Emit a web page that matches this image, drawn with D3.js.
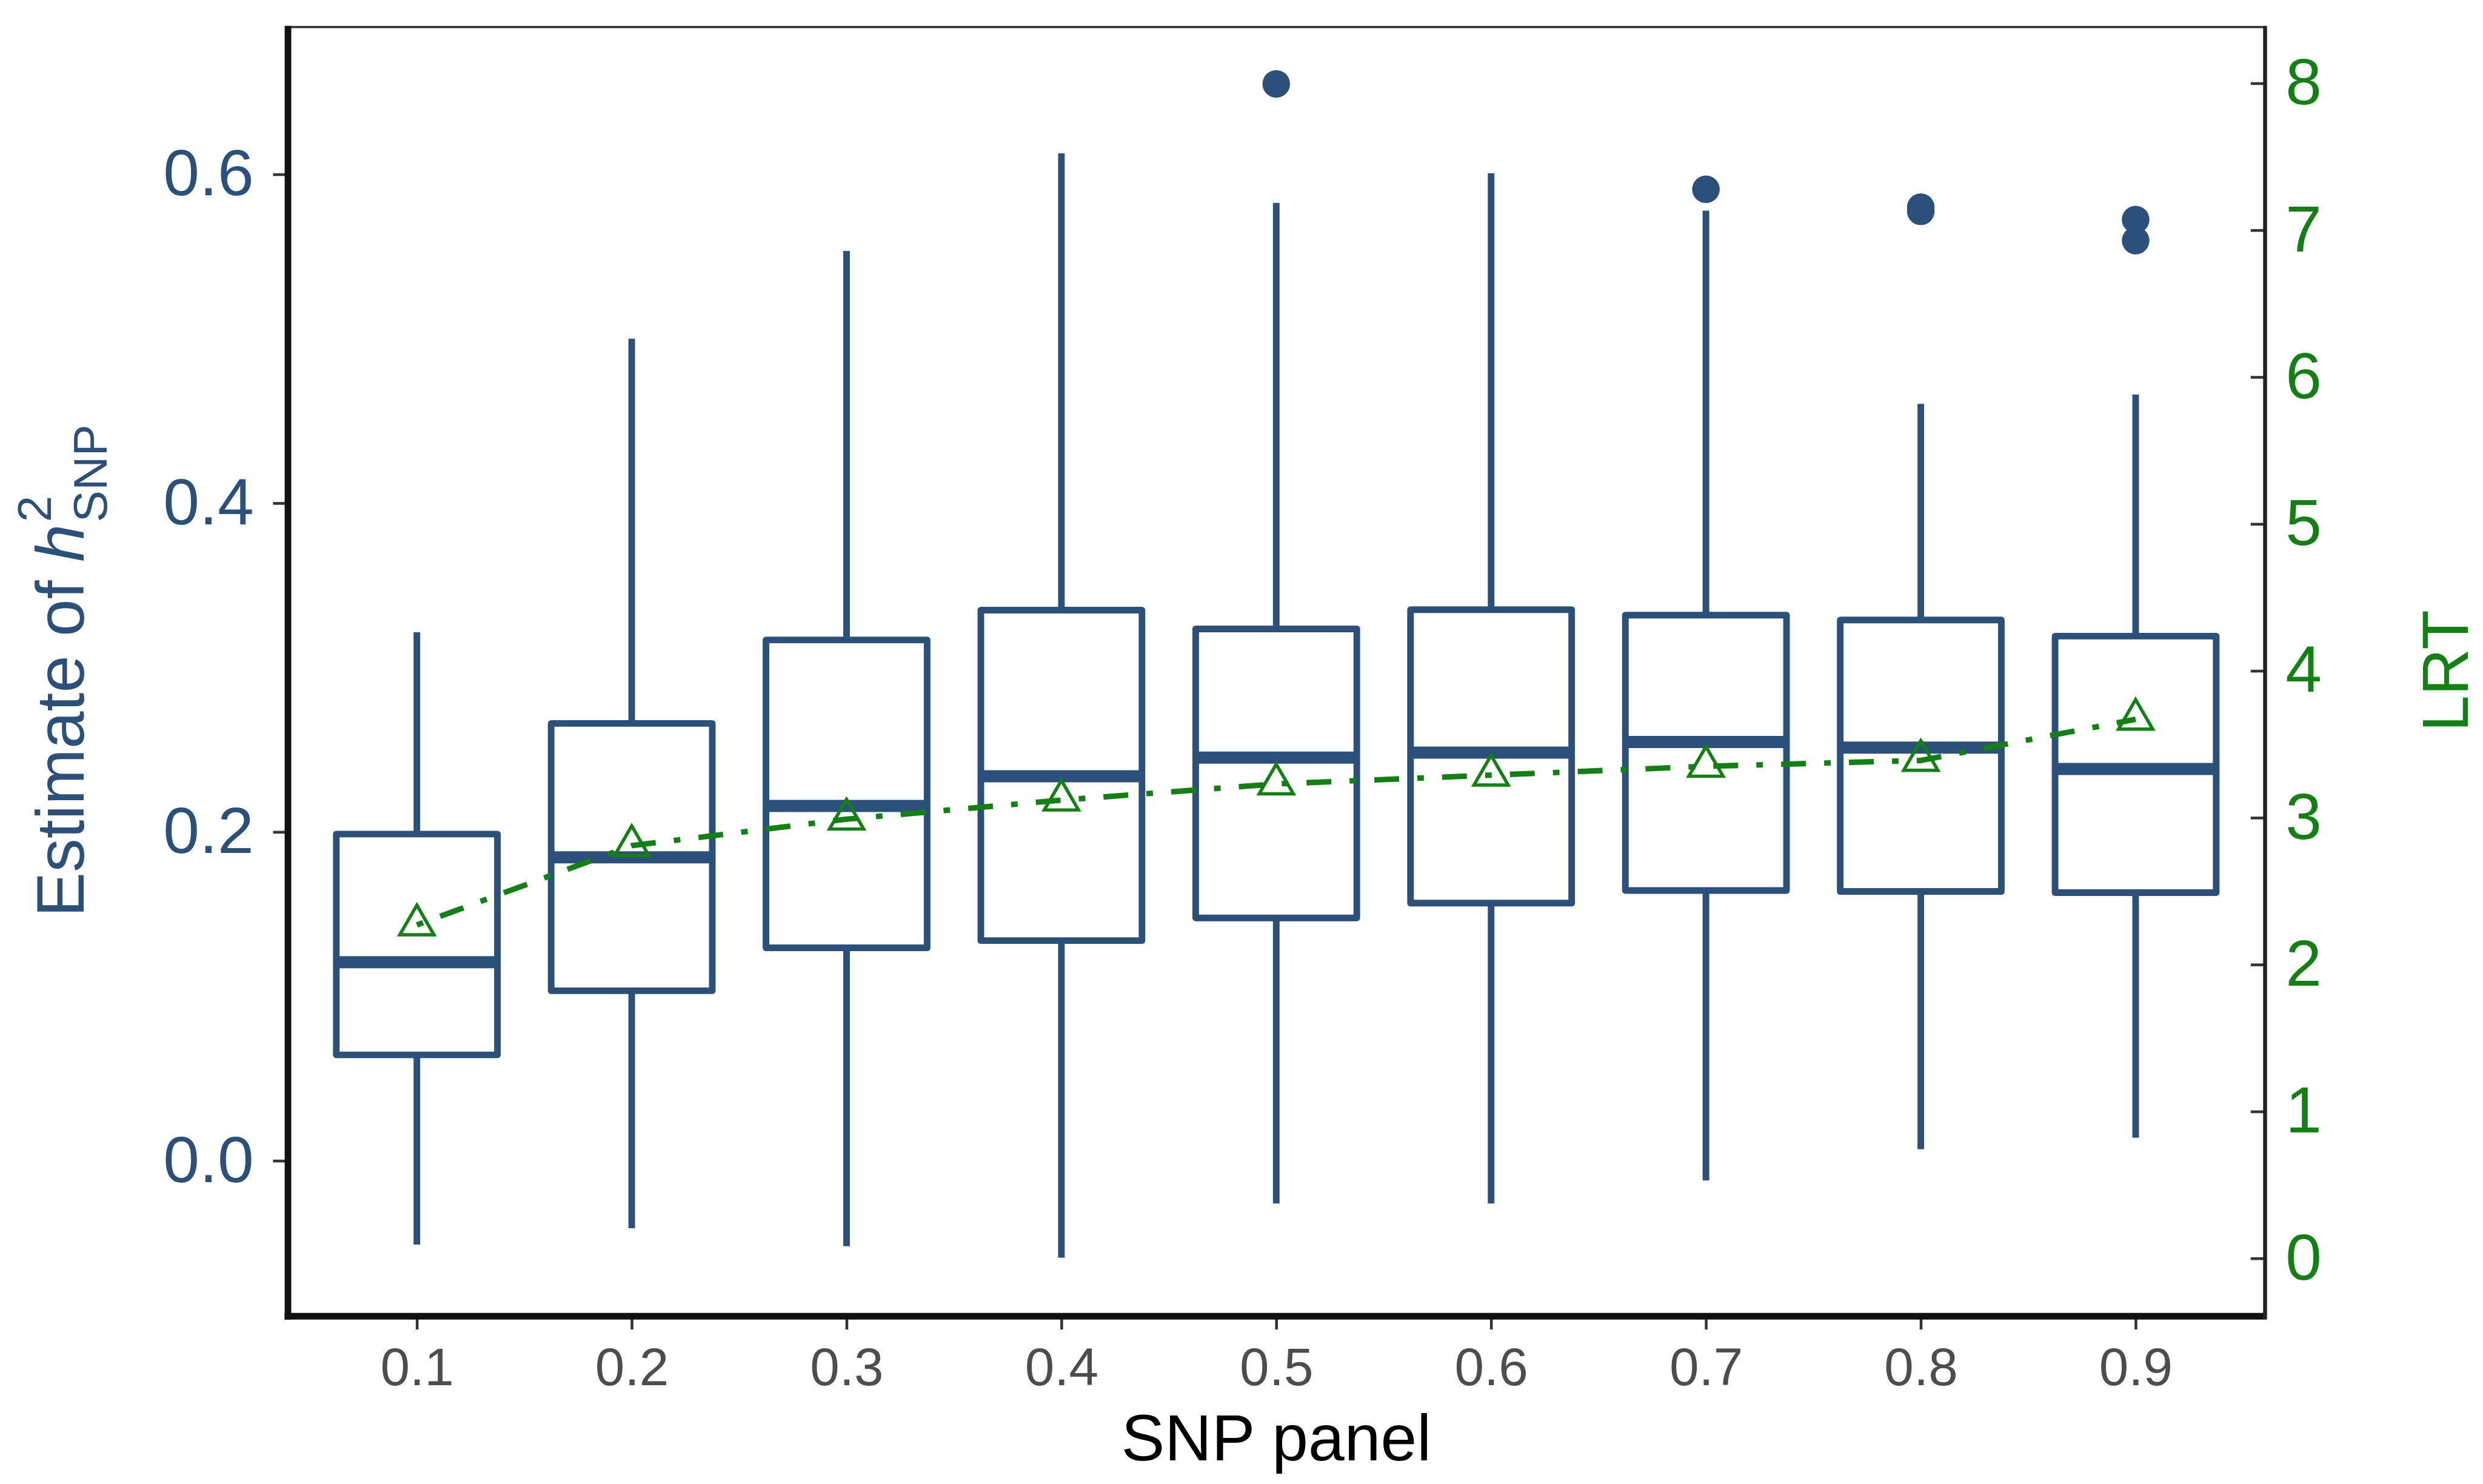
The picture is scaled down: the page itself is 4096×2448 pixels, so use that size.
<!DOCTYPE html>
<html>
<head>
<meta charset="utf-8">
<script src="https://cdn.jsdelivr.net/npm/d3@7"></script>
<style>
  html, body { margin: 0; padding: 0; background: #fff; }
  svg { display: block; font-family: "Liberation Sans", Arial, sans-serif; }
</style>
</head>
<body>
<svg id="chart" width="4096" height="2448" viewBox="0 0 4501 2690"></svg>
<script>
// values
const panels = ["0.1", "0.2", "0.3", "0.4", "0.5", "0.6", "0.7", "0.8", "0.9"];
const whiskerLow = [-0.051, -0.041, -0.052, -0.059, -0.026, -0.026, -0.012, 0.007, 0.014];
const q1 = [0.0644, 0.1034, 0.1295, 0.1339, 0.1477, 0.1567, 0.1644, 0.1638, 0.1631];
const medians = [0.1208, 0.1846, 0.2158, 0.2339, 0.2452, 0.2483, 0.2547, 0.2513, 0.2383];
const q3 = [0.1987, 0.266, 0.3168, 0.3349, 0.3235, 0.3352, 0.3319, 0.3289, 0.3191];
const whiskerHigh = [0.3215, 0.500, 0.5534, 0.6128, 0.5826, 0.6007, 0.5779, 0.4604, 0.4661];
const outliers = [[], [], [], [], [0.655], [], [0.5909], [0.5800, 0.5775], [0.5725, 0.5597]];
const lrt = [2.27, 2.81, 2.99, 3.12, 3.23, 3.29, 3.35, 3.39, 3.67];

const leftTicks = [0, 0.2, 0.4, 0.6];
const rightTicks = [0, 1, 2, 3, 4, 5, 6, 7, 8];

class BoxLrtChart {
  constructor() {
    this.svg = d3.select("#chart");
    this.blue = "#2B5079";
    this.green = "#138013";
    this.m = { left: 522, right: 4105, top: 49, bottom: 2383 };

    this.x = d3.scalePoint().domain(panels).range([this.m.left, this.m.right]).padding(0.6);
    this.y = d3.scaleLinear().domain([-0.0936, 0.6896]).range([this.m.bottom, this.m.top]);
    this.yR = d3.scaleLinear().domain([-0.383, 8.383]).range([this.m.bottom, this.m.top]);
    this.boxW = this.x.step() * 0.75;

    this.rows = panels.map((p, i) => ({
      panel: p, lo: whiskerLow[i], q1: q1[i], med: medians[i], q3: q3[i],
      hi: whiskerHigh[i], out: outliers[i], lrt: lrt[i]
    }));
  }

  drawFrame() {
    const m = this.m;
    this.svg.append("rect")
      .attr("x", m.left).attr("y", m.top)
      .attr("width", m.right - m.left).attr("height", m.bottom - m.top)
      .attr("fill", "none").attr("stroke", "#333").attr("stroke-width", 4);
  }

  drawAxes() {
    const m = this.m;
    // left axis (h2 estimate)
    const gl = this.svg.append("g")
      .attr("transform", `translate(${m.left},0)`)
      .call(d3.axisLeft(this.y).tickValues(leftTicks).tickFormat(d3.format(".1f")).tickSize(27).tickPadding(35));
    gl.select(".domain").remove();
    gl.selectAll(".tick line").attr("stroke", "#333").attr("stroke-width", 5);
    gl.selectAll(".tick text").attr("fill", this.blue).attr("font-size", 118).attr("font-family", null);

    // right axis (LRT) ticks point into the panel
    const gr = this.svg.append("g")
      .attr("transform", `translate(${m.right},0)`)
      .call(d3.axisRight(this.yR).tickValues(rightTicks).tickFormat(d3.format("d")).tickSize(25).tickPadding(38));
    gr.select(".domain").remove();
    gr.selectAll(".tick line").attr("x2", -25).attr("stroke", "#333").attr("stroke-width", 5);
    gr.selectAll(".tick text").attr("x", 38).attr("fill", this.green).attr("font-size", 118).attr("font-family", null);

    // bottom axis
    const gb = this.svg.append("g")
      .attr("transform", `translate(0,${m.bottom})`)
      .call(d3.axisBottom(this.x).tickSize(27).tickPadding(33));
    gb.select(".domain").remove();
    gb.selectAll(".tick line").attr("stroke", "#333").attr("stroke-width", 5);
    gb.selectAll(".tick text").attr("fill", "#4D4D4D").attr("font-size", 96).attr("font-family", null);

    // axis lines
    this.svg.append("line")
      .attr("x1", m.left).attr("x2", m.left).attr("y1", m.top - 2).attr("y2", m.bottom + 9)
      .attr("stroke", "#111").attr("stroke-width", 12);
    this.svg.append("line")
      .attr("x1", m.left - 6).attr("x2", m.right).attr("y1", m.bottom + 3).attr("y2", m.bottom + 3)
      .attr("stroke", "#111").attr("stroke-width", 12);
    this.svg.append("line")
      .attr("x1", m.right + 1).attr("x2", m.right + 1).attr("y1", m.top - 2).attr("y2", m.bottom + 9)
      .attr("stroke", "#222").attr("stroke-width", 7);
  }

  drawTitles() {
    const m = this.m;
    // x title
    this.svg.append("text")
      .attr("x", (m.left + m.right) / 2).attr("y", 2647)
      .attr("text-anchor", "middle").attr("font-size", 118).attr("fill", "#000")
      .text("SNP panel");

    // left title: Estimate of h^2_SNP
    const g = this.svg.append("g");
    const main = g.append("text").attr("font-size", 122).attr("fill", this.blue);
    main.append("tspan").text("Estimate of ");
    main.append("tspan").attr("font-style", "italic").text("h");
    const L = main.node().getComputedTextLength();
    const sup = g.append("text").attr("x", L + 4).attr("y", -60)
      .attr("font-size", 86).attr("fill", this.blue).text("2");
    const sub = g.append("text").attr("x", L + 4).attr("y", 41)
      .attr("font-size", 86).attr("fill", this.blue).text("SNP");
    const total = L + 4 + Math.max(sup.node().getComputedTextLength(), sub.node().getComputedTextLength());
    const cy = (m.top + m.bottom) / 2;
    g.attr("transform", `translate(152,${cy + total / 2}) rotate(-90)`);

    // right title
    this.svg.append("text")
      .attr("transform", `translate(4474,${cy}) rotate(-90)`)
      .attr("text-anchor", "middle").attr("font-size", 118).attr("fill", this.green)
      .text("LRT");
  }

  drawBoxes() {
    const x = this.x, y = this.y, w = this.boxW;
    const g = this.svg.append("g").selectAll("g")
      .data(this.rows).enter().append("g");

    g.append("line")
      .attr("x1", d => x(d.panel)).attr("x2", d => x(d.panel))
      .attr("y1", d => y(d.hi)).attr("y2", d => y(d.q3))
      .attr("stroke", this.blue).attr("stroke-width", 12);
    g.append("line")
      .attr("x1", d => x(d.panel)).attr("x2", d => x(d.panel))
      .attr("y1", d => y(d.q1)).attr("y2", d => y(d.lo))
      .attr("stroke", this.blue).attr("stroke-width", 12);

    g.append("rect")
      .attr("x", d => x(d.panel) - w / 2).attr("width", w)
      .attr("y", d => y(d.q3)).attr("height", d => y(d.q1) - y(d.q3))
      .attr("fill", "#fff").attr("stroke", this.blue).attr("stroke-width", 12)
      .attr("stroke-linejoin", "round");

    g.append("line")
      .attr("x1", d => x(d.panel) - w / 2).attr("x2", d => x(d.panel) + w / 2)
      .attr("y1", d => y(d.med)).attr("y2", d => y(d.med))
      .attr("stroke", this.blue).attr("stroke-width", 22);

    g.selectAll("circle")
      .data(d => d.out.map(v => ({ panel: d.panel, v: v })))
      .enter().append("circle")
      .attr("cx", d => x(d.panel)).attr("cy", d => y(d.v)).attr("r", 25)
      .attr("fill", this.blue);
  }

  drawLrt() {
    const x = this.x, yR = this.yR;
    const line = d3.line().x(d => x(d.panel)).y(d => yR(d.lrt));
    this.svg.append("path")
      .datum(this.rows)
      .attr("d", line)
      .attr("fill", "none").attr("stroke", this.green).attr("stroke-width", 10)
      .attr("stroke-dasharray", "12 33 45 33");

    const tri = d3.symbol().type(d3.symbolTriangle).size(1664);
    this.svg.append("g").selectAll("path")
      .data(this.rows).enter().append("path")
      .attr("d", tri)
      .attr("transform", d => `translate(${x(d.panel)},${yR(d.lrt)})`)
      .attr("fill", "none").attr("stroke", this.green).attr("stroke-width", 6);
  }

  init() {
    this.drawFrame();
    this.drawBoxes();
    this.drawLrt();
    this.drawAxes();
    this.drawTitles();
  }
}

const chart = new BoxLrtChart();
chart.init();
</script>
</body>
</html>
